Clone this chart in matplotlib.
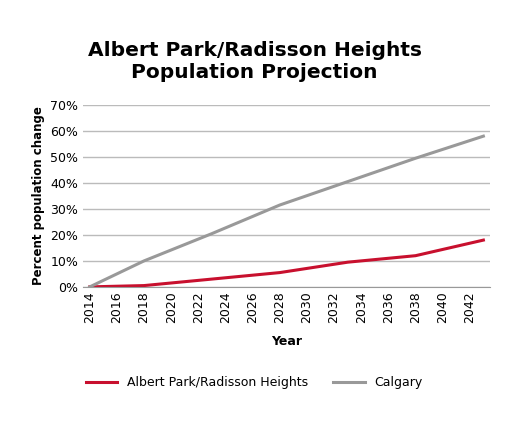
import matplotlib.pyplot as plt
from matplotlib.ticker import PercentFormatter

years = [2014, 2018, 2023, 2028, 2033, 2038, 2043]
albert = [0.0, 0.5, 3.0, 5.5, 9.5, 12.0, 18.0]
calgary = [0.0, 10.0, 20.5, 31.5, 40.5, 49.5, 58.0]
xticks = list(range(2014, 2043, 2))

plt.rcParams['font.family'] = ['DejaVu Sans']
fig = plt.figure(figsize=(5.09, 4.25), dpi=100)
ax = fig.add_axes([0.163, 0.325, 0.8, 0.428])

ax.plot(years, albert, color='#c8102e', lw=2.2, label='Albert Park/Radisson Heights')
ax.plot(years, calgary, color='#999999', lw=2.2, label='Calgary')

ax.set_xlim(2013.5, 2043.5)
ax.set_ylim(0, 70)
ax.set_yticks(range(0, 71, 10))
ax.yaxis.set_major_formatter(PercentFormatter(decimals=0))
ax.set_xticks(xticks)
ax.tick_params(axis='x', rotation=90, labelsize=9, length=0)
ax.tick_params(axis='y', labelsize=9, length=0)
ax.grid(axis='y', color='#bbbbbb', lw=1)
ax.set_axisbelow(True)
for s in ['top', 'right', 'left']:
    ax.spines[s].set_visible(False)
ax.spines['bottom'].set_color('#999999')

ax.set_xlabel('Year', fontsize=9, fontweight='bold', labelpad=8)
ax.set_ylabel('Percent population change', fontsize=8.5, fontweight='bold')
fig.text(0.5, 0.855, 'Albert Park/Radisson Heights\nPopulation Projection',
         ha='center', va='center', fontsize=14.5, fontweight='bold')
fig.legend(loc='center', bbox_to_anchor=(0.5, 0.1), ncol=2, frameon=False,
           fontsize=9, handlelength=2.5)

fig.savefig('out.png', dpi=100)
